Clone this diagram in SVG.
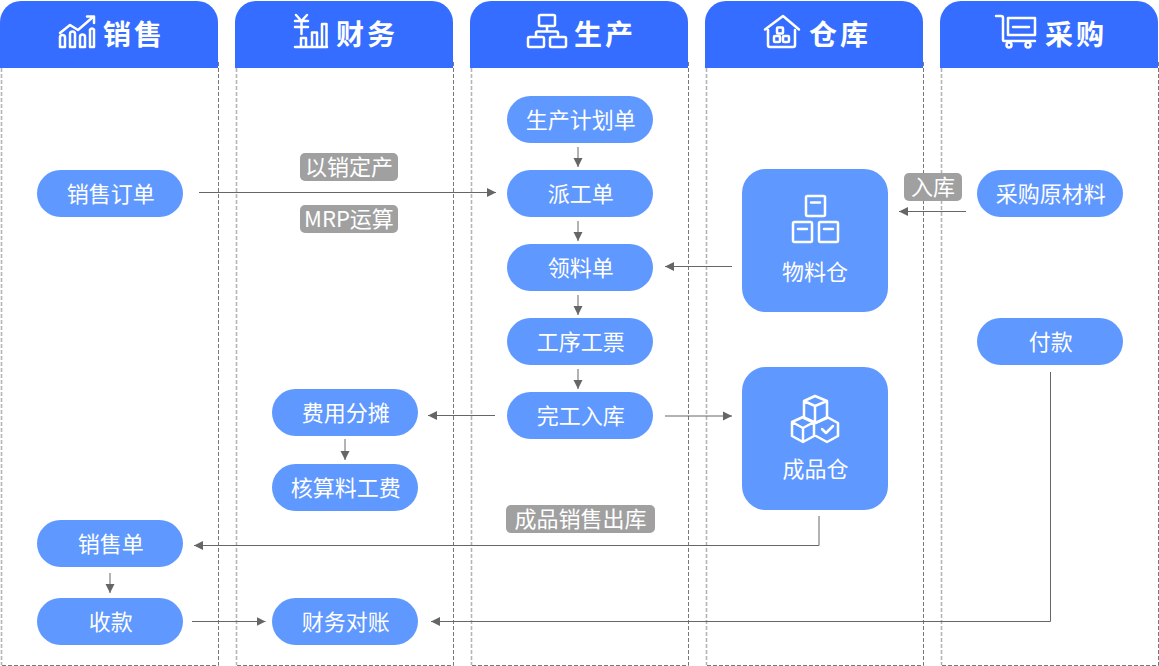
<svg xmlns="http://www.w3.org/2000/svg" width="1159" height="666" viewBox="0 0 1159 666">
<style>
text{font-family:"Noto Sans CJK SC","Noto Sans",sans-serif;text-anchor:middle}
.hd{fill:#346dff}
.hdt{fill:#fff;font-size:28px;font-weight:700;letter-spacing:3px}
.dl{fill:none;stroke:#b5b5b5;stroke-width:1.6;stroke-dasharray:4 2}
.dr{fill:none;stroke:#777;stroke-width:1;stroke-dasharray:4 2}
.p{fill:#5f98ff}
.pt{fill:#fff;font-size:22px;transform:translate(.7px,.5px)}
.wt{fill:#fff;font-size:22px}
.tag{fill:#a0a0a0}
.tagt{fill:#fff;font-size:22px}
.c{fill:none;stroke:#666;stroke-width:1}
.i{fill:none;stroke:#fff;stroke-width:2.500;stroke-linejoin:round;stroke-linecap:round}
</style>
<defs>
<marker id="a" markerUnits="userSpaceOnUse" markerWidth="10" markerHeight="10" refX="9" refY="5" orient="auto"><path d="M0 .5L9 5L0 9.500Z" fill="#666"/></marker>
<path id="h" d="M0 68V22A21 21 0 0 1 21 1H197A21 21 0 0 1 218 22V68Z"/>
</defs>
<g id="lane-sales"><path class="dl" d="M1.500 68V665"/><path class="dr" d="M218.500 62V665.500H2"/><use href="#h" class="hd"/>
<g class="i"><path d="M60 47V37.500A2 2 0 0 1 65 37.500V47ZM70 47V34A2.500 2.500 0 0 1 75 34V47ZM80 47V37A2.500 2.500 0 0 1 85 37V47ZM90 47V29.500A2.500 2.500 0 0 1 94 29.500V47Z"/><path d="M60 33L70 25L78 30L93 17M87 16.500H94V23"/></g>
<text class="hdt" x="134" y="45">销售</text></g>
<g id="lane-finance"><path class="dl" d="M236.500 68V665"/><path class="dr" d="M453.500 62V665.500H237"/><use href="#h" class="hd" x="235"/>
<g class="i"><path d="M295 47H327M301 47V38M306 47V38H301M312 47V32.500H317V47M322 47V24H326.500V47M295 21H308M295 27H308M301.500 21V34M296 15L301.500 21L307 15"/></g>
<text class="hdt" x="367" y="45">财务</text></g>
<g id="lane-production"><path class="dl" d="M471.500 68V665"/><path class="dr" d="M688.500 62V665.500H472"/><use href="#h" class="hd" x="470"/>
<g class="i"><rect x="539" y="15" width="16" height="11" rx="1.500"/><rect x="528" y="37" width="16" height="10" rx="1.500"/><rect x="550" y="37" width="16" height="10" rx="1.500"/><path d="M547 26V31.500M536 37V33A1.500 1.500 0 0 1 537.500 31.500H556.500A1.500 1.500 0 0 1 558 33V37"/></g>
<text class="hdt" x="605" y="45">生产</text></g>
<g id="lane-warehouse"><path class="dl" d="M706.500 68V665"/><path class="dr" d="M923.500 62V665.500H707"/><use href="#h" class="hd" x="705"/>
<g class="i"><path d="M765 29.500L783 16L799 29.500M768 30V45A2 2 0 0 0 770 47H793A2 2 0 0 0 795 45V30"/><rect x="777" y="27.500" width="6" height="6" rx="1"/><rect x="774" y="36" width="6" height="6" rx="1"/><rect x="783" y="36" width="6" height="6" rx="1"/></g>
<text class="hdt" x="840" y="45">仓库</text></g>
<g id="lane-purchase"><path class="dl" d="M941.500 68V665"/><path class="dr" d="M1158.500 62V665.500H942"/><use href="#h" class="hd" x="940"/>
<g class="i"><path d="M996 16H1001A2 2 0 0 1 1003 18V40A1 1 0 0 0 1004 41H1035"/><path d="M1008 18H1035V35H1008Z"/><path d="M1013 27H1029"/><circle cx="1009" cy="45" r="2.500"/><circle cx="1028" cy="45" r="2.500"/></g>
<text class="hdt" x="1076" y="45">采购</text></g>

<g id="connectors">
<path class="c" marker-end="url(#a)" d="M199 192.500H496"/>
<path class="c" marker-end="url(#a)" d="M578 147V167"/>
<path class="c" marker-end="url(#a)" d="M578 221V241"/>
<path class="c" marker-end="url(#a)" d="M578 295V315"/>
<path class="c" marker-end="url(#a)" d="M578 369V389"/>
<path class="c" marker-end="url(#a)" d="M966 211.500H899"/>
<path class="c" marker-end="url(#a)" d="M732 266.500H665"/>
<path class="c" marker-end="url(#a)" d="M495 415.500H428"/>
<path class="c" marker-end="url(#a)" d="M665 416H732"/>
<path class="c" marker-end="url(#a)" d="M345 439V460"/>
<path class="c" marker-end="url(#a)" d="M819 516V545.500H194"/>
<path class="c" marker-end="url(#a)" d="M110 573V593"/>
<path class="c" marker-end="url(#a)" d="M192 621.500H265.500"/>
<path class="c" marker-end="url(#a)" d="M1050.500 372V621.500H431"/>
</g>

<g id="tag-yxdc"><rect class="tag" x="300" y="153" width="98" height="28" rx="5"/><text class="tagt" x="349" y="175">以销定产</text></g>
<g id="tag-mrp"><rect class="tag" x="300" y="205" width="98" height="28" rx="5"/><text class="tagt" x="349" y="227">MRP运算</text></g>
<g id="tag-rk"><rect class="tag" x="904" y="173" width="58" height="28" rx="5"/><text class="tagt" x="933" y="195">入库</text></g>
<g id="tag-cpxs"><rect class="tag" x="506" y="505" width="149" height="28" rx="5"/><text class="tagt" x="580.500" y="527">成品销售出库</text></g>

<g id="n1"><rect class="p" x="37" y="170" width="146" height="47" rx="23.500"/><text class="pt" x="110" y="201">销售订单</text></g>
<g id="n2"><rect class="p" x="507" y="96" width="146" height="47" rx="23.500"/><text class="pt" x="580" y="127">生产计划单</text></g>
<g id="n3"><rect class="p" x="507" y="170" width="146" height="47" rx="23.500"/><text class="pt" x="580" y="201">派工单</text></g>
<g id="n4"><rect class="p" x="507" y="244" width="146" height="47" rx="23.500"/><text class="pt" x="580" y="275">领料单</text></g>
<g id="n5"><rect class="p" x="507" y="318" width="146" height="47" rx="23.500"/><text class="pt" x="580" y="349">工序工票</text></g>
<g id="n6"><rect class="p" x="507" y="392" width="146" height="47" rx="23.500"/><text class="pt" x="580" y="423">完工入库</text></g>
<g id="n7"><rect class="p" x="272" y="389" width="146" height="47" rx="23.500"/><text class="pt" x="345" y="420">费用分摊</text></g>
<g id="n8"><rect class="p" x="272" y="464" width="146" height="47" rx="23.500"/><text class="pt" x="345" y="495">核算料工费</text></g>
<g id="n9"><rect class="p" x="37" y="520" width="146" height="47" rx="23.500"/><text class="pt" x="110" y="551">销售单</text></g>
<g id="n10"><rect class="p" x="37" y="598" width="146" height="47" rx="23.500"/><text class="pt" x="110" y="629">收款</text></g>
<g id="n11"><rect class="p" x="272" y="598" width="146" height="47" rx="23.500"/><text class="pt" x="345" y="629">财务对账</text></g>
<g id="n12"><rect class="p" x="977" y="170" width="146" height="47" rx="23.500"/><text class="pt" x="1050" y="201">采购原材料</text></g>
<g id="n13"><rect class="p" x="977" y="318" width="146" height="47" rx="23.500"/><text class="pt" x="1050" y="349">付款</text></g>
<g id="n14"><rect class="p" x="742" y="169" width="146" height="143" rx="24"/>
<g class="i"><rect x="806" y="196" width="19" height="20" rx="1.500"/><rect x="793" y="222" width="19" height="20" rx="1.500"/><rect x="819" y="222" width="19" height="20" rx="1.500"/><path d="M811 202.500H820M798 229H807M824 229H833"/></g>
<text class="wt" x="815" y="280">物料仓</text></g>
<g id="n15"><rect class="p" x="742" y="367" width="146" height="143" rx="24"/>
<g class="i"><path d="M804 401L815 396L827 401V418L815 423L804 418ZM804 401L815 406L827 401M815 406V423"/><path d="M792 422L803 417L814 422V436L803 442L792 436ZM792 422L803 428L814 422M803 428V442"/><path d="M816 423L827 417L838 423V436L827 442L816 436"/><path d="M822 429L826 433L833 426"/></g>
<text class="wt" x="815.500" y="476.500">成品仓</text></g>
</svg>
